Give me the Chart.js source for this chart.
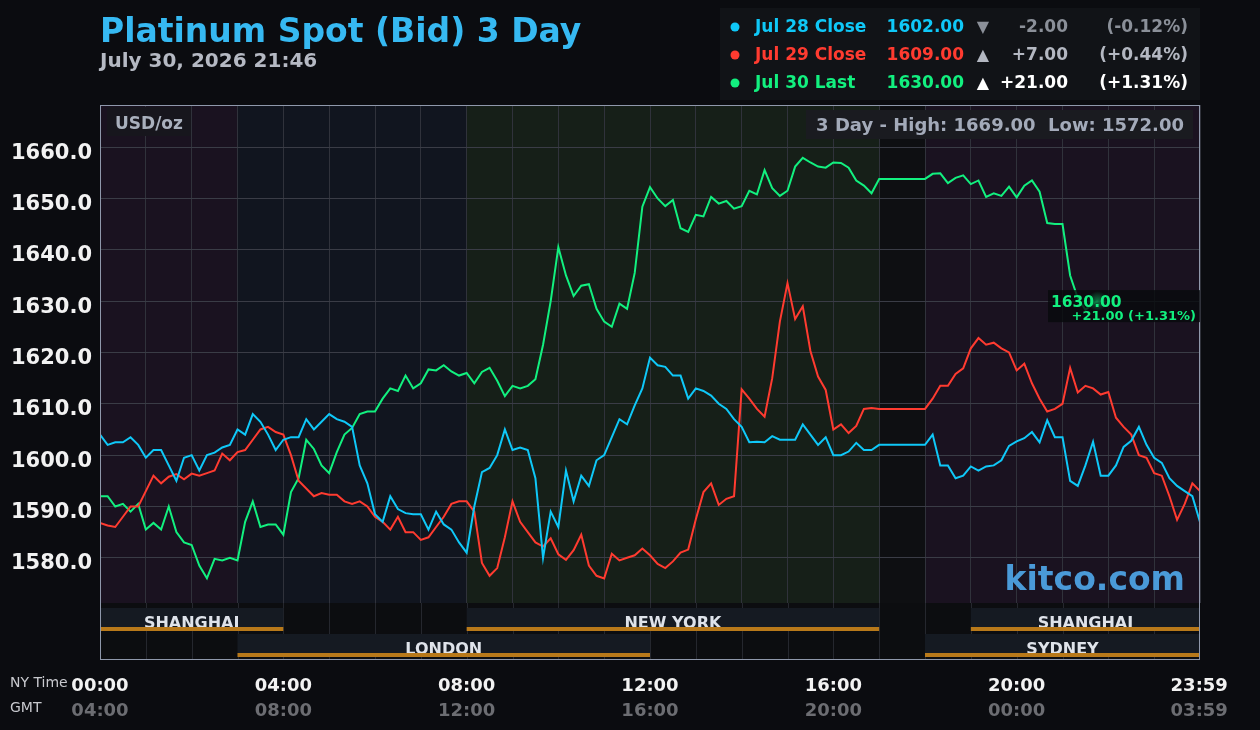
<!DOCTYPE html>
<html>
<head>
<meta charset="utf-8">
<title>Platinum Spot (Bid) 3 Day</title>
<script src="https://cdn.jsdelivr.net/npm/chart.js@4.4.1/dist/chart.umd.min.js"></script>
<style>
    html, body { margin: 0; padding: 0; background: #0b0c10; }
    #wrap { position: relative; width: 1260px; height: 730px; }
</style>
</head>
<body>
<div id="wrap"><canvas id="spotChart" width="1260" height="730"></canvas></div>
<script>
// ===== DATA ===== //
// one price every 10 minutes, NY time 00:00 -> 24:00
const stepMinutes = 10;

const jul28Close = [
    1604, 1602, 1602.5, 1602.5, 1603.5, 1602, 1599.5, 1601, 1601, 1598,
    1595, 1599.5, 1600, 1597, 1600, 1600.5, 1601.5, 1602, 1605, 1604,
    1608, 1606.5, 1604, 1601, 1603, 1603.5, 1603.5, 1607, 1605, 1606.5,
    1608, 1607, 1606.5, 1605.5, 1598, 1594.5, 1588.5, 1587, 1592, 1589.5,
    1588.7, 1588.5, 1588.5, 1585.5, 1589, 1586.5, 1585.5, 1583, 1581, 1590,
    1596.7, 1597.5, 1600, 1605, 1601, 1601.5, 1601, 1595.5, 1580, 1589,
    1586, 1597, 1591, 1596, 1594, 1599, 1600, 1603.5, 1607, 1606,
    1609.7, 1613, 1619, 1617.5, 1617.2, 1615.5, 1615.5, 1611, 1613, 1612.5,
    1611.6, 1610, 1609, 1607, 1605.5, 1602.5, 1602.6, 1602.5, 1603.7, 1603,
    1603, 1603, 1606, 1604, 1602, 1603.5, 1600, 1600, 1600.7, 1602.4,
    1601, 1601, 1602, 1602, 1602, 1602, 1602, 1602, 1602, 1604,
    1598, 1598, 1595.5, 1596, 1597.8, 1597, 1597.8, 1598, 1599, 1601.8,
    1602.7, 1603.3, 1604.5, 1602.5, 1606.8, 1603.5, 1603.5, 1595, 1594, 1598,
    1602.6, 1596, 1596, 1598, 1601.6, 1602.8, 1605.5, 1602, 1599.5, 1598.5,
    1595.5, 1594, 1593, 1592, 1587
];

const jul29Close = [
    1586.8, 1586.3, 1586, 1588, 1590, 1590, 1593, 1596, 1594.5, 1595.8,
    1596.3, 1595.3, 1596.4, 1596, 1596.5, 1597, 1600.3, 1599, 1600.6, 1601,
    1603, 1605, 1605.5, 1604.5, 1604, 1600, 1595, 1593.5, 1592, 1592.6,
    1592.3, 1592.3, 1591, 1590.5, 1591, 1590, 1588, 1587, 1585.5, 1588,
    1585, 1585, 1583.5, 1584, 1586, 1588, 1590.5, 1591, 1591, 1589,
    1579, 1576.5, 1578, 1584, 1591, 1587, 1585, 1583, 1582.2, 1583.8,
    1580.7, 1579.6, 1581.5, 1584.5, 1578.5, 1576.5, 1576, 1580.8, 1579.5, 1580,
    1580.5, 1581.8, 1580.5, 1578.8, 1578, 1579.3, 1581, 1581.6, 1587.5, 1592.8,
    1594.5, 1590.3, 1591.5, 1592, 1612.8, 1611, 1609, 1607.5, 1615, 1626,
    1633.5, 1626.5, 1629, 1620.3, 1615.3, 1612.7, 1605, 1606, 1604.3, 1605.7,
    1609, 1609.2, 1609, 1609, 1609, 1609, 1609, 1609, 1609, 1611,
    1613.5, 1613.5, 1615.8, 1616.9, 1620.8, 1622.8, 1621.5, 1621.9, 1620.8, 1620,
    1616.5, 1617.8, 1614, 1611, 1608.5, 1609, 1610, 1617, 1612.2, 1613.5,
    1613, 1611.8, 1612.3, 1607.3, 1605.5, 1604, 1600, 1599.5, 1596.5, 1596,
    1592, 1587.4, 1590.5, 1594.5, 1593
];

// today runs up to the last quote at 21:46
const jul30Last = [
    1592, 1592, 1590, 1590.5, 1589, 1590.5, 1585.5, 1586.8, 1585.5, 1590,
    1585, 1583, 1582.5, 1578.5, 1576, 1579.8, 1579.5, 1580, 1579.5, 1587,
    1591, 1586, 1586.5, 1586.5, 1584.5, 1592.8, 1595.5, 1603, 1601.2, 1598,
    1596.5, 1600.6, 1604, 1605.3, 1608, 1608.5, 1608.5, 1611, 1613, 1612.5,
    1615.5, 1613, 1614, 1616.7, 1616.5, 1617.5, 1616.3, 1615.5, 1616, 1614,
    1616.2, 1617, 1614.5, 1611.5, 1613.5, 1613, 1613.5, 1614.8, 1621.5, 1630,
    1640.5, 1635, 1631, 1633, 1633.3, 1628.5, 1626, 1625, 1629.5, 1628.5,
    1635.5, 1648.4, 1652.2, 1650, 1648.5, 1649.7, 1644.2, 1643.5, 1646.8, 1646.5,
    1650.3, 1649, 1649.5, 1648, 1648.5, 1651.5, 1650.8, 1655.5, 1652, 1650.5,
    1651.5, 1656.2, 1657.9, 1657, 1656.2, 1656, 1657, 1656.9, 1656, 1653.5,
    1652.5, 1651, 1653.8, 1653.8, 1653.8, 1653.8, 1653.8, 1653.8, 1653.8, 1654.8,
    1654.9, 1653, 1654, 1654.5, 1652.8, 1653.5, 1650.3, 1651, 1650.5, 1652.3,
    1650.2, 1652.5, 1653.5, 1651.3, 1645.2, 1645, 1645, 1635, 1630.6, 1628.3,
    1629.5
];
const lastQuoteMinute = 1306;   // 21:46
const lastQuote = 1630;

const priceTicks = [1580, 1590, 1600, 1610, 1620, 1630, 1640, 1650, 1660];
const priceMin = 1571.2;
const priceMax = 1668.2;

const timeLabelMinutes = [0, 240, 480, 720, 960, 1200, 1439];
const nyTimeLabels = ['00:00', '04:00', '08:00', '12:00', '16:00', '20:00', '23:59'];
const gmtTimeLabels = ['04:00', '08:00', '12:00', '16:00', '20:00', '00:00', '03:59'];

const seriesNames = ['Jul 28 Close', 'Jul 29 Close', 'Jul 30 Last'];
const seriesPrices = [1602.00, 1609.00, 1630.00];
const seriesChanges = [-2.00, 7.00, 21.00];
const seriesPercents = [-0.12, 0.44, 1.31];

const dayHigh = 1669.00;
const dayLow = 1572.00;
const stampText = 'July 30, 2026 21:46';

// trading sessions (NY minutes)
const sessionNames = ['SHANGHAI', 'NEW YORK', 'SHANGHAI', 'LONDON', 'SYDNEY'];
const sessionStart = [0, 480, 1140, 180, 1080];
const sessionEnd = [240, 1020, 1440, 720, 1440];
const sessionRow = [0, 0, 0, 1, 1];

// background zones (NY minutes)
const zoneStart = [0, 180, 480, 1020, 1080];
const zoneEnd = [180, 480, 1020, 1080, 1440];

// ===== STYLE ===== //
const FONT = 'DejaVu Sans';
const lineColors = ['#0fc8f8', '#ff3b30', '#12f07f'];
const zoneColors = ['#1a1220', '#11151f', '#161f18', '#0e0f12', '#1a1220'];

Chart.defaults.font.family = FONT;

const toPoints = values => values.map((v, i) => ({ x: i * stepMinutes, y: v }));

const todayPoints = toPoints(jul30Last);
todayPoints.push({ x: lastQuoteMinute, y: lastQuote });

// ===== PLUGIN ===== //
const kitcoFrame = {
    id: 'kitcoFrame',
    beforeDraw(chart) {
        const { ctx, chartArea: a, scales: { x } } = chart;
        ctx.save();
        ctx.fillStyle = '#0b0c10';
        ctx.fillRect(0, 0, chart.width, chart.height);

        // zone shading
        zoneStart.forEach((s, i) => {
            const x0 = x.getPixelForValue(s);
            const x1 = x.getPixelForValue(zoneEnd[i]);
            ctx.fillStyle = zoneColors[i];
            ctx.fillRect(x0, a.top, x1 - x0, a.bottom - a.top);
        });

        // session strip under the price area
        const stripTop = a.bottom;
        const stripH = 57;
        ctx.fillStyle = '#0c0d10';
        ctx.fillRect(a.left, stripTop, a.right - a.left, stripH);
        ctx.strokeStyle = '#25272e';
        ctx.lineWidth = 1;
        for (let h = 1; h < 24; h++) {
            const px = Math.round(x.getPixelForValue(h * 60)) + 0.5;
            ctx.beginPath();
            ctx.moveTo(px, stripTop);
            ctx.lineTo(px, stripTop + stripH);
            ctx.stroke();
        }

        sessionNames.forEach((name, i) => {
            const x0 = x.getPixelForValue(sessionStart[i]);
            const x1 = x.getPixelForValue(sessionEnd[i]);
            const top = stripTop + 5 + sessionRow[i] * 26;
            ctx.fillStyle = '#151a22';
            ctx.fillRect(x0, top, x1 - x0, 23);
            ctx.fillStyle = '#dfe3ea';
            ctx.font = 'bold 16px ' + FONT;
            ctx.textAlign = 'center';
            ctx.textBaseline = 'alphabetic';
            ctx.fillText(name, (x0 + x1) / 2, top + 20);
            ctx.fillStyle = '#b8791a';
            ctx.fillRect(x0, top + 19, x1 - x0, 4);
        });
        ctx.restore();
    },
    afterDraw(chart) {
        const { ctx, chartArea: a, scales: { x } } = chart;
        ctx.save();

        // outer frame
        ctx.strokeStyle = '#8f98ab';
        ctx.lineWidth = 1;
        ctx.strokeRect(a.left + 0.5, a.top + 0.5, a.right - a.left - 1, a.bottom - a.top + 57 - 1);

        // title
        ctx.textBaseline = 'alphabetic';
        ctx.textAlign = 'left';
        ctx.fillStyle = '#36b9f2';
        ctx.font = 'bold 33px ' + FONT;
        ctx.fillText('Platinum Spot (Bid) 3 Day', 100, 42);
        ctx.fillStyle = '#b5b9c3';
        ctx.font = 'bold 20px ' + FONT;
        ctx.fillText(stampText, 100, 67);

        // legend box
        ctx.fillStyle = '#111317';
        ctx.fillRect(720, 8, 480, 92);
        const changeColors = ['#8b9099', '#b3b7c1', '#ffffff'];
        seriesNames.forEach((name, i) => {
            const y = 28 + i * 28;
            ctx.fillStyle = lineColors[i];
            ctx.beginPath();
            ctx.arc(735, y - 1, 4.5, 0, Math.PI * 2);
            ctx.fill();
            ctx.font = 'bold 17px ' + FONT;
            ctx.textBaseline = 'middle';
            ctx.textAlign = 'left';
            ctx.fillText(name, 755, y);
            ctx.textAlign = 'right';
            ctx.fillText(seriesPrices[i].toFixed(2), 964, y);
            ctx.fillStyle = changeColors[i];
            ctx.textAlign = 'center';
            ctx.font = 'bold 16px ' + FONT;
            ctx.fillText(seriesChanges[i] < 0 ? '\u25BC' : '\u25B2', 983, y);
            ctx.font = 'bold 17px ' + FONT;
            ctx.textAlign = 'right';
            const sign = seriesChanges[i] < 0 ? '' : '+';
            ctx.fillText(sign + seriesChanges[i].toFixed(2), 1068, y);
            ctx.fillText('(' + sign + seriesPercents[i].toFixed(2) + '%)', 1188, y);
        });

        // unit box
        ctx.fillStyle = '#17161d';
        ctx.fillRect(107, 107, 84, 29);
        ctx.fillStyle = '#a9b0bd';
        ctx.font = 'bold 17px ' + FONT;
        ctx.textAlign = 'left';
        ctx.textBaseline = 'middle';
        ctx.fillText('USD/oz', 115, 125);

        // high / low box
        ctx.fillStyle = '#1a1b20';
        ctx.fillRect(806, 110, 387, 29);
        ctx.fillStyle = '#a3aab9';
        ctx.font = 'bold 18px ' + FONT;
        ctx.textAlign = 'right';
        ctx.fillText('3 Day - High: ' + dayHigh.toFixed(2) + '  Low: ' + dayLow.toFixed(2), 1184, 126);

        // watermark
        ctx.fillStyle = '#4a9ad8';
        ctx.font = 'bold 33px ' + FONT;
        ctx.textAlign = 'right';
        ctx.textBaseline = 'alphabetic';
        ctx.fillText('kitco.com', 1185, 590);

        // last quote marker and label
        const meta = chart.getDatasetMeta(2);
        const pt = meta.data[meta.data.length - 1];
        ctx.fillStyle = 'rgba(8, 10, 12, 0.8)';
        ctx.fillRect(a.right - 152, pt.y - 11, 152, 32);
        const glow = ctx.createRadialGradient(pt.x, pt.y, 0, pt.x, pt.y, 10);
        glow.addColorStop(0, 'rgba(18, 240, 127, 0.45)');
        glow.addColorStop(1, 'rgba(18, 240, 127, 0)');
        ctx.fillStyle = glow;
        ctx.beginPath();
        ctx.arc(pt.x, pt.y, 10, 0, Math.PI * 2);
        ctx.fill();
        ctx.fillStyle = lineColors[2];
        ctx.font = 'bold 15.5px ' + FONT;
        ctx.textAlign = 'left';
        ctx.textBaseline = 'middle';
        ctx.fillText(lastQuote.toFixed(2), a.right - 149, pt.y + 2);
        ctx.font = 'bold 13px ' + FONT;
        ctx.textAlign = 'right';
        ctx.fillText('+' + seriesChanges[2].toFixed(2) + ' (+' + seriesPercents[2].toFixed(2) + '%)', a.right - 4, pt.y + 16);

        // time labels
        ctx.textAlign = 'left';
        ctx.fillStyle = '#c8c9ce';
        ctx.font = '14px ' + FONT;
        ctx.fillText('NY Time', 10, 683);
        ctx.fillText('GMT', 10, 708);
        ctx.textAlign = 'center';
        ctx.font = 'bold 18px ' + FONT;
        timeLabelMinutes.forEach((m, i) => {
            const px = x.getPixelForValue(m);
            ctx.fillStyle = '#f2f2f2';
            ctx.fillText(nyTimeLabels[i], px, 686);
            ctx.fillStyle = '#6c6d72';
            ctx.fillText(gmtTimeLabels[i], px, 711);
        });
        ctx.restore();
    }
};

// ===== CHART ===== //
const ctx = document.getElementById('spotChart').getContext('2d');
new Chart(ctx, {
    type: 'line',
    data: {
        datasets: [
            { label: seriesNames[0], data: toPoints(jul28Close), borderColor: lineColors[0] },
            { label: seriesNames[1], data: toPoints(jul29Close), borderColor: lineColors[1] },
            { label: seriesNames[2], data: todayPoints, borderColor: lineColors[2] }
        ]
    },
    options: {
        responsive: false,
        animation: false,
        devicePixelRatio: 1,
        layout: { padding: { top: 105, right: 60, left: 0, bottom: 0 } },
        elements: {
            point: { radius: 0, hoverRadius: 0 },
            line: { borderWidth: 2, tension: 0, fill: false }
        },
        plugins: {
            legend: { display: false },
            tooltip: { enabled: false },
            title: { display: false }
        },
        scales: {
            x: {
                type: 'linear',
                min: 0,
                max: 1440,
                afterBuildTicks: scale => {
                    scale.ticks = Array.from({ length: 25 }, (_, h) => ({ value: h * 60 }));
                },
                afterFit: scale => { scale.height = 127; },
                ticks: { display: false },
                grid: { color: '#30323b', drawTicks: false },
                border: { display: false }
            },
            y: {
                min: priceMin,
                max: priceMax,
                afterBuildTicks: scale => {
                    scale.ticks = priceTicks.map(v => ({ value: v }));
                },
                afterFit: scale => { scale.width = 100; },
                ticks: {
                    color: '#f2f2f2',
                    font: { family: FONT, size: 21, weight: 'bold' },
                    padding: 8,
                    labelOffset: 6,
                    callback: v => v.toFixed(1)
                },
                grid: { color: '#3a3c46', drawTicks: false },
                border: { display: false }
            }
        }
    },
    plugins: [kitcoFrame]
});
</script>
</body>
</html>
